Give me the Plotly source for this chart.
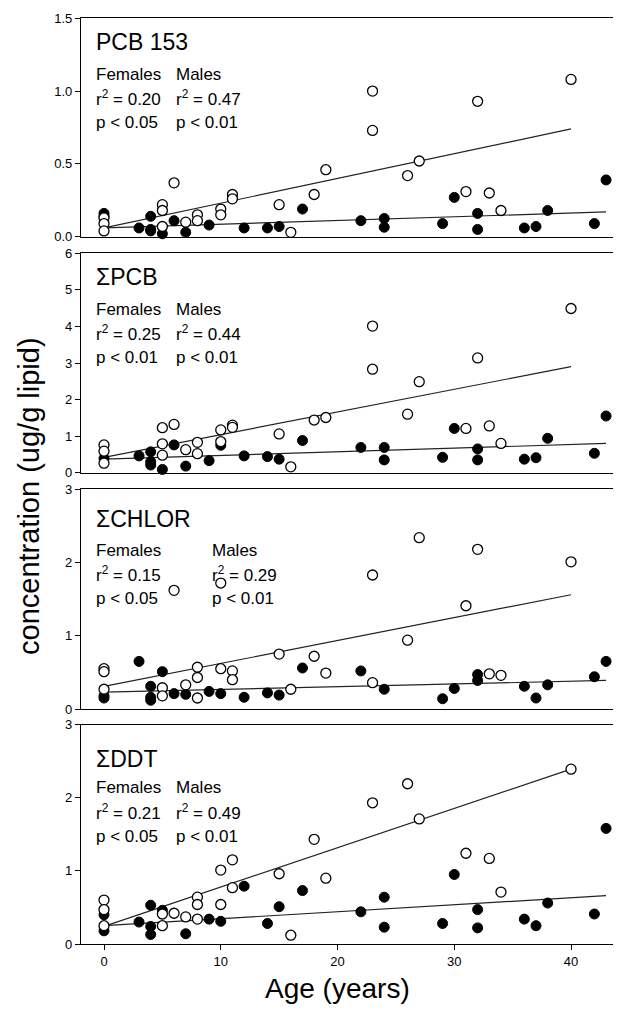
import plotly.graph_objects as go
from plotly.subplots import make_subplots

# ---------------- DATA ----------------
# Panel 1: PCB 153
pcb153_m_age = [0, 0, 0, 5, 5, 5, 6, 7, 8, 8, 10, 10, 11, 11, 15, 16, 18, 19, 23, 23, 26, 27, 31, 32, 33, 34, 40]
pcb153_m_val = [0.13, 0.09, 0.04, 0.22, 0.18, 0.07, 0.37, 0.10, 0.15, 0.11, 0.19, 0.15, 0.29, 0.26, 0.22, 0.03,
                0.29, 0.46, 1.00, 0.73, 0.42, 0.52, 0.31, 0.93, 0.30, 0.18, 1.08]
pcb153_f_age = [0, 0, 3, 4, 4, 4, 5, 6, 7, 9, 12, 14, 15, 17, 22, 24, 24, 29, 30, 32, 32, 36, 37, 38, 42, 43]
pcb153_f_val = [0.16, 0.14, 0.06, 0.14, 0.05, 0.04, 0.02, 0.11, 0.03, 0.08, 0.06, 0.06, 0.07, 0.19, 0.11, 0.125,
                0.065, 0.09, 0.27, 0.16, 0.05, 0.06, 0.07, 0.18, 0.09, 0.39]
pcb153_m_fit_age = [0, 40]
pcb153_m_fit_val = [0.06, 0.74]
pcb153_f_fit_age = [0, 43]
pcb153_f_fit_val = [0.06, 0.17]

# Panel 2: sum PCB
spcb_m_age = [0, 0, 0, 5, 5, 5, 6, 7, 8, 8, 10, 10, 11, 11, 15, 16, 18, 19, 23, 23, 26, 27, 31, 32, 33, 34, 40]
spcb_m_val = [0.76, 0.59, 0.26, 1.23, 0.79, 0.48, 1.32, 0.63, 0.83, 0.52, 1.17, 0.85, 1.30, 1.24, 1.06, 0.16,
              1.44, 1.51, 4.01, 2.83, 1.60, 2.49, 1.21, 3.14, 1.28, 0.80, 4.49]
spcb_f_age = [0, 3, 4, 4, 4, 5, 6, 7, 9, 10, 12, 14, 15, 17, 22, 24, 24, 29, 30, 32, 32, 36, 37, 38, 42, 43]
spcb_f_val = [0.39, 0.46, 0.57, 0.30, 0.21, 0.09, 0.76, 0.18, 0.33, 0.75, 0.46, 0.44, 0.37, 0.88, 0.69, 0.69,
              0.35, 0.42, 1.21, 0.65, 0.35, 0.37, 0.41, 0.94, 0.53, 1.55]
spcb_m_fit_age = [0, 40]
spcb_m_fit_val = [0.42, 2.90]
spcb_f_fit_age = [0, 43]
spcb_f_fit_val = [0.37, 0.80]

# Panel 3: sum CHLOR
schlor_m_age = [0, 0, 0, 5, 5, 6, 7, 8, 8, 8, 10, 10, 11, 11, 15, 16, 18, 19, 23, 23, 26, 27, 31, 32, 33, 34, 40]
schlor_m_val = [0.55, 0.51, 0.27, 0.29, 0.18, 1.62, 0.33, 0.57, 0.43, 0.15, 0.55, 1.72, 0.52, 0.40, 0.75, 0.27,
                0.72, 0.49, 1.83, 0.36, 0.94, 2.34, 1.41, 2.18, 0.48, 0.46, 2.01]
schlor_f_age = [0, 0, 3, 4, 4, 4, 5, 6, 7, 9, 10, 12, 14, 15, 17, 22, 24, 29, 30, 32, 32, 36, 37, 38, 42, 43]
schlor_f_val = [0.18, 0.15, 0.65, 0.31, 0.16, 0.12, 0.51, 0.21, 0.20, 0.24, 0.21, 0.16, 0.22, 0.19, 0.56, 0.52,
                0.27, 0.14, 0.28, 0.47, 0.39, 0.31, 0.15, 0.33, 0.44, 0.65]
schlor_m_fit_age = [0, 40]
schlor_m_fit_val = [0.31, 1.56]
schlor_f_fit_age = [0, 43]
schlor_f_fit_val = [0.23, 0.39]

# Panel 4: sum DDT
sddt_m_age = [0, 0, 0, 5, 5, 6, 7, 8, 8, 8, 10, 10, 11, 11, 15, 16, 18, 19, 23, 26, 27, 31, 33, 34, 40]
sddt_m_val = [0.60, 0.47, 0.25, 0.41, 0.25, 0.42, 0.37, 0.64, 0.54, 0.34, 1.01, 0.54, 1.15, 0.77, 0.96, 0.12,
              1.43, 0.90, 1.93, 2.19, 1.71, 1.24, 1.17, 0.71, 2.39]
sddt_f_age = [0, 0, 3, 4, 4, 4, 5, 7, 9, 10, 12, 14, 15, 17, 22, 24, 24, 29, 30, 32, 32, 36, 37, 38, 42, 43]
sddt_f_val = [0.40, 0.18, 0.30, 0.53, 0.24, 0.13, 0.46, 0.14, 0.34, 0.31, 0.79, 0.28, 0.51, 0.73, 0.44, 0.64,
              0.23, 0.28, 0.95, 0.47, 0.22, 0.34, 0.25, 0.56, 0.41, 1.58]
sddt_m_fit_age = [0, 40]
sddt_m_fit_val = [0.24, 2.39]
sddt_f_fit_age = [0, 43]
sddt_f_fit_val = [0.25, 0.66]

panel_titles = ["PCB 153", "ΣPCB", "ΣCHLOR", "ΣDDT"]
female_r2 = ["0.20", "0.25", "0.15", "0.21"]
male_r2 = ["0.47", "0.44", "0.29", "0.49"]
female_p = ["p < 0.05", "p < 0.01", "p < 0.05", "p < 0.05"]
male_p = ["p < 0.01", "p < 0.01", "p < 0.01", "p < 0.01"]
y_ranges = [[0, 1.5], [0, 6], [0, 3], [0, 3]]
y_ticks = [[0, 0.5, 1.0, 1.5], [0, 1, 2, 3, 4, 5, 6], [0, 1, 2, 3], [0, 1, 2, 3]]
x_ticks = [0, 10, 20, 30, 40]

panels = [
    (pcb153_m_age, pcb153_m_val, pcb153_f_age, pcb153_f_val, pcb153_m_fit_age, pcb153_m_fit_val, pcb153_f_fit_age, pcb153_f_fit_val),
    (spcb_m_age, spcb_m_val, spcb_f_age, spcb_f_val, spcb_m_fit_age, spcb_m_fit_val, spcb_f_fit_age, spcb_f_fit_val),
    (schlor_m_age, schlor_m_val, schlor_f_age, schlor_f_val, schlor_m_fit_age, schlor_m_fit_val, schlor_f_fit_age, schlor_f_fit_val),
    (sddt_m_age, sddt_m_val, sddt_f_age, sddt_f_val, sddt_m_fit_age, sddt_m_fit_val, sddt_f_fit_age, sddt_f_fit_val),
]

# ---------------- LAYOUT GEOMETRY ----------------
OFF = 8  # default page body margin
W, H = 621 - OFF, 1011 - OFF
ML, MR, MT, MB = 81 - OFF, 0, 18 - OFF, 67
PW = W - ML - MR
PH = H - MT - MB
FONT = "Liberation Sans, Arial, Helvetica, sans-serif"

def px2x(px):
    return (px - OFF - ML) / PW

def px2y(py):
    return (H - MB - (py - OFF)) / PH

panel_px = [(18.3, 236.7), (253.3, 472.7), (489.3, 709.0), (724.5, 944.0)]
text_offsets = [(24, 56, 80, 104), (24, 56, 80, 104), (30, 61, 85, 109), (34, 63, 87, 112)]
males_x = [174, 174, 210, 174]

fig = make_subplots(rows=4, cols=1, shared_xaxes=True)

for i, (ma, mv, fa, fv, mfa, mfv, ffa, ffv) in enumerate(panels):
    r = i + 1
    fig.add_trace(go.Scatter(x=mfa, y=mfv, mode="lines", line=dict(color="#222", width=1.2),
                             showlegend=False, hoverinfo="skip"), row=r, col=1)
    fig.add_trace(go.Scatter(x=ffa, y=ffv, mode="lines", line=dict(color="#222", width=1.2),
                             showlegend=False, hoverinfo="skip"), row=r, col=1)
    fig.add_trace(go.Scatter(x=fa, y=fv, mode="markers",
                             marker=dict(size=10, color="black", line=dict(color="black", width=1)),
                             showlegend=False, cliponaxis=False), row=r, col=1)
    fig.add_trace(go.Scatter(x=ma, y=mv, mode="markers",
                             marker=dict(size=10, color="white", line=dict(color="black", width=1.3)),
                             showlegend=False, cliponaxis=False), row=r, col=1)

annotations = []
for i in range(4):
    top, bot = panel_px[i]
    dom = [px2y(bot), px2y(top)]
    yname = "yaxis" if i == 0 else f"yaxis{i+1}"
    xname = "xaxis" if i == 0 else f"xaxis{i+1}"
    fig.layout[yname].update(
        domain=dom, range=y_ranges[i], tickvals=y_ticks[i],
        tickformat=".1f" if i == 0 else "d",
        showline=True, linecolor="black", linewidth=1.3, mirror=False,
        ticks="outside", ticklen=5, tickwidth=1.2, tickcolor="black",
        showgrid=False, zeroline=False,
        tickfont=dict(family=FONT, size=13, color="black"),
    )
    fig.layout[xname].update(
        range=[-1.97, 44.28], showline=True, linecolor="black", linewidth=1.3, mirror=True,
        showgrid=False, zeroline=False, tickvals=x_ticks,
        ticks="outside" if i == 3 else "", ticklen=5, tickwidth=1.2, tickcolor="black",
        showticklabels=(i == 3),
        tickfont=dict(family=FONT, size=13, color="black"),
    )
    o = text_offsets[i]
    annotations.append(dict(text=panel_titles[i], x=px2x(94), y=px2y(top + o[0]), xref="paper", yref="paper",
                            xanchor="left", yanchor="middle", showarrow=False,
                            font=dict(family=FONT, size=23, color="black")))
    rows = [("Females", "Males"),
            (f"r<sup>2</sup> = {female_r2[i]}", f"r<sup>2</sup> = {male_r2[i]}"),
            (female_p[i], male_p[i])]
    for k, (ft, mt) in enumerate(rows):
        for xx, tt in ((94, ft), (males_x[i], mt)):
            annotations.append(dict(text=tt, x=px2x(xx), y=px2y(top + o[k + 1]), xref="paper", yref="paper",
                                    xanchor="left", yanchor="middle", showarrow=False,
                                    font=dict(family=FONT, size=17, color="black")))

annotations.append(dict(text="Age (years)", x=px2x(337), y=px2y(988), xref="paper", yref="paper",
                        xanchor="center", yanchor="middle", showarrow=False,
                        font=dict(family=FONT, size=28, color="black")))
annotations.append(dict(text="concentration (ug/g lipid)", x=px2x(29), y=px2y(496), xref="paper", yref="paper",
                        xanchor="center", yanchor="middle", showarrow=False, textangle=-90,
                        font=dict(family=FONT, size=29, color="black")))

fig.update_layout(
    width=W, height=H, margin=dict(l=ML, r=MR, t=MT, b=MB, autoexpand=False),
    plot_bgcolor="white", paper_bgcolor="white", annotations=annotations,
    font=dict(family=FONT, color="black"),
)

fig.write_html("out.html")
